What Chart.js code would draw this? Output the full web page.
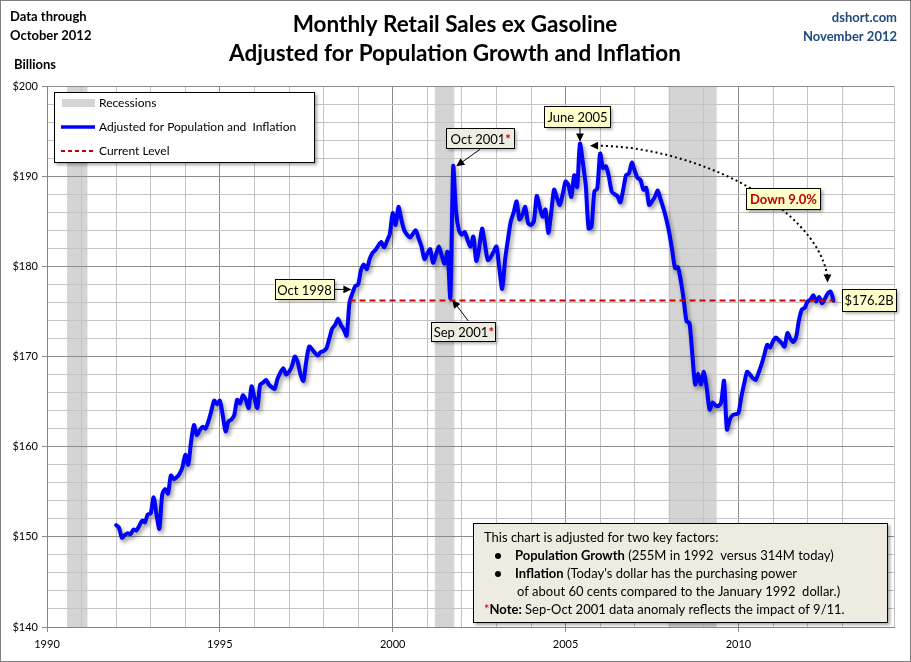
<!DOCTYPE html>
<html>
<head>
<meta charset="utf-8">
<script src="https://cdn.jsdelivr.net/npm/chart.js@4.4.1/dist/chart.umd.min.js"></script>
<style>
  html, body { margin: 0; padding: 0; background: #fff; }
  #wrap { width: 911px; height: 662px; }
</style>
</head>
<body>
<div id="wrap"><canvas id="salesChart" width="911" height="662"></canvas></div>
<script>
// Monthly series, Jan 1992 .. Oct 2012, billions (real, per-capita adjusted)
const startYear = 1992;
const sales = [
  // 1992
  151.3, 151.0, 149.9, 150.2, 150.4, 150.3, 150.8, 150.7, 151.2, 151.8, 151.6, 152.5,
  // 1993
  152.6, 154.4, 152.5, 150.9, 154.7, 155.3, 154.8, 156.8, 156.4, 156.6, 157.0, 157.7,
  // 1994
  159.1, 158.0, 160.5, 162.4, 161.3, 161.8, 162.2, 162.0, 162.8, 163.9, 165.1, 164.7,
  // 1995
  165.1, 163.5, 161.7, 162.8, 163.0, 163.5, 165.2, 164.8, 165.7, 165.2, 164.3, 166.7,
  // 1996
  165.4, 164.3, 166.9, 167.1, 167.4, 166.9, 166.6, 166.4, 167.5, 168.2, 168.7, 168.0,
  // 1997
  168.3, 168.9, 170.0, 169.4, 168.0, 167.3, 169.5, 171.1, 170.8, 170.4, 170.1, 170.5,
  // 1998
  170.6, 170.9, 172.0, 173.1, 173.5, 174.2, 173.5, 173.0, 172.3, 176.0, 177.0, 177.8,
  // 1999
  178.0, 179.6, 180.2, 179.7, 180.8, 181.5, 181.8, 182.3, 182.7, 182.1, 182.8, 183.6,
  // 2000
  185.9, 184.6, 186.6, 185.2, 184.0, 183.5, 183.2, 183.6, 184.0, 183.1, 182.2, 180.8,
  // 2001
  181.4, 181.9, 180.4, 181.3, 182.2, 181.2, 180.3, 181.6, 176.5, 191.1, 186.0, 184.0,
  // 2002
  183.5, 183.8, 182.9, 182.2, 183.3, 180.6, 182.0, 184.2, 182.5, 180.7, 181.0, 181.6,
  // 2003
  182.2, 179.8, 177.5, 180.7, 183.0, 185.0, 186.0, 187.2, 185.2, 185.7, 186.6, 184.8,
  // 2004
  184.6, 185.0, 187.8, 186.6, 185.5, 186.3, 183.7, 185.9, 188.5, 187.6, 186.8, 188.0,
  // 2005
  189.4, 189.0, 187.7, 190.1, 188.8, 193.6, 191.5, 189.0, 184.2, 184.4, 188.3, 188.6,
  // 2006
  192.5, 190.9, 191.1, 190.0, 188.3, 188.0, 187.8, 187.1, 188.5, 190.1, 190.3, 191.5,
  // 2007
  190.6, 189.8, 189.6, 188.5, 188.7, 186.8, 187.2, 187.7, 188.4, 187.4, 186.4, 185.2,
  // 2008
  183.7, 181.8, 179.8, 179.9, 178.4, 176.3, 173.9, 173.7, 170.2, 166.9, 168.1, 166.9,
  // 2009
  168.3, 166.5, 164.1, 164.9, 164.6, 164.5, 164.9, 167.3, 161.9, 163.0, 163.5, 163.6,
  // 2010
  163.7, 165.5, 167.0, 168.3, 168.0, 167.6, 167.4, 168.2, 169.1, 170.2, 171.3, 171.0,
  // 2011
  171.7, 172.1, 171.8, 171.5, 171.1, 172.6, 172.0, 171.6, 172.1, 174.0, 175.2, 175.4,
  // 2012
  176.1, 176.3, 176.8, 176.1, 176.6, 175.9, 176.4, 177.0, 177.2, 176.2
];

// NBER recessions (fractional years)
const recessionStart = [1990.58, 2001.22, 2007.98];
const recessionEnd   = [1991.17, 2001.78, 2009.37];

const yTickLabels = [140, 150, 160, 170, 180, 190, 200];
const xTickLabels = [1990, 1995, 2000, 2005, 2010];

const levelFromIndex = 81;   // Oct 1998, first month at the current level
const sep2001 = 116, oct2001 = 117;

const FONT = 'Lato, "Open Sans", sans-serif';

const monthX = i => startYear + i / 12;
const lastIndex = sales.length - 1;
const currentLevel = sales[lastIndex];
const peakIndex = sales.indexOf(Math.max(...sales));
const peakValue = sales[peakIndex];
const downPct = (1 - currentLevel / peakValue) * 100;

const seriesPoints = sales.map((v, i) => ({ x: monthX(i), y: v }));
const levelPoints = [
  { x: monthX(levelFromIndex), y: currentLevel },
  { x: monthX(lastIndex), y: currentLevel }
];

// ---- drawing helpers ----
function box(ctx, x, y, w, h, fill) {
  ctx.save();
  ctx.shadowColor = 'rgba(0,0,0,0.35)';
  ctx.shadowBlur = 3;
  ctx.shadowOffsetX = 2;
  ctx.shadowOffsetY = 2;
  ctx.fillStyle = fill;
  ctx.fillRect(x, y, w, h);
  ctx.restore();
  ctx.strokeStyle = '#000';
  ctx.lineWidth = 1;
  ctx.strokeRect(Math.round(x) + 0.5, Math.round(y) + 0.5, Math.round(w) - 1, Math.round(h) - 1);
}

function arrowHead(ctx, x1, y1, x2, y2, size) {
  const a = Math.atan2(y2 - y1, x2 - x1);
  ctx.beginPath();
  ctx.moveTo(x2, y2);
  ctx.lineTo(x2 - size * Math.cos(a - 0.45), y2 - size * Math.sin(a - 0.45));
  ctx.lineTo(x2 - size * Math.cos(a + 0.45), y2 - size * Math.sin(a + 0.45));
  ctx.closePath();
  ctx.fill();
}

function arrow(ctx, x1, y1, x2, y2) {
  ctx.save();
  ctx.strokeStyle = '#000';
  ctx.fillStyle = '#000';
  ctx.lineWidth = 1;
  const a = Math.atan2(y2 - y1, x2 - x1);
  ctx.beginPath();
  ctx.moveTo(x1, y1);
  ctx.lineTo(x2 - 6 * Math.cos(a), y2 - 6 * Math.sin(a));
  ctx.stroke();
  arrowHead(ctx, x1, y1, x2, y2, 9);
  ctx.restore();
}

function runs(ctx, x, y, parts, size) {
  ctx.textBaseline = 'middle';
  ctx.textAlign = 'left';
  parts.forEach(p => {
    ctx.font = (p.bold ? 'bold ' : '') + size + 'px ' + FONT;
    ctx.fillStyle = p.color || '#000';
    ctx.fillText(p.t, x, y);
    x += ctx.measureText(p.t).width;
  });
}

function callout(ctx, x, y, w, h, fill, parts, size) {
  box(ctx, x, y, w, h, fill);
  let tw = 0;
  parts.forEach(p => {
    ctx.font = (p.bold ? 'bold ' : '') + size + 'px ' + FONT;
    tw += ctx.measureText(p.t).width;
  });
  runs(ctx, x + (w - tw) / 2, y + h / 2 + 1, parts, size);
}

const backgroundPlugin = {
  id: 'recessionBands',
  beforeDraw(chart) {
    const { ctx, chartArea, scales } = chart;
    ctx.save();
    ctx.fillStyle = '#fff';
    ctx.fillRect(0, 0, chart.width, chart.height);
    ctx.fillStyle = '#d4d4d4';
    recessionStart.forEach((s, i) => {
      const x1 = scales.x.getPixelForValue(s);
      const x2 = scales.x.getPixelForValue(recessionEnd[i]);
      ctx.fillRect(x1, chartArea.top, x2 - x1, chartArea.bottom - chartArea.top);
    });
    ctx.restore();
  }
};

const shadowPlugin = {
  id: 'lineShadow',
  beforeDatasetDraw(chart, args) {
    if (args.index !== 1) return;
    const ctx = chart.ctx;
    ctx.save();
    ctx.shadowColor = 'rgba(0,0,0,0.4)';
    ctx.shadowBlur = 4;
    ctx.shadowOffsetX = 2;
    ctx.shadowOffsetY = 3;
  },
  afterDatasetDraw(chart, args) {
    if (args.index !== 1) return;
    chart.ctx.restore();
  }
};

const overlayPlugin = {
  id: 'overlay',
  afterDraw(chart) {
    const { ctx, scales } = chart;
    const px = v => scales.x.getPixelForValue(v);
    const py = v => scales.y.getPixelForValue(v);
    ctx.save();

    // titles
    ctx.fillStyle = '#000';
    ctx.textAlign = 'center';
    ctx.textBaseline = 'middle';
    ctx.font = 'bold 22.5px ' + FONT;
    ctx.fillText('Monthly Retail Sales ex Gasoline', 455, 25);
    ctx.fillText('Adjusted for Population Growth and Inflation', 455, 54);

    ctx.font = 'bold 13px ' + FONT;
    ctx.textAlign = 'left';
    ctx.fillText('Data through', 10, 17);
    ctx.fillText('October 2012', 10, 36);
    ctx.fillText('Billions', 14, 65);

    ctx.textAlign = 'right';
    ctx.fillStyle = '#1f497d';
    ctx.fillText('dshort.com', 897, 18);
    ctx.fillText('November 2012', 897, 37);

    // legend
    box(ctx, 54, 92, 261, 71, '#fff');
    ctx.fillStyle = '#d4d4d4';
    ctx.fillRect(62, 99, 33, 8);
    ctx.strokeStyle = '#0000ff';
    ctx.lineWidth = 3.5;
    ctx.beginPath(); ctx.moveTo(61, 127); ctx.lineTo(95, 127); ctx.stroke();
    ctx.strokeStyle = '#c00000';
    ctx.lineWidth = 2;
    ctx.setLineDash([4, 3]);
    ctx.beginPath(); ctx.moveTo(61, 151); ctx.lineTo(95, 151); ctx.stroke();
    ctx.setLineDash([]);
    runs(ctx, 99, 103, [{ t: 'Recessions' }], 12);
    runs(ctx, 99, 127, [{ t: 'Adjusted for Population and  Inflation' }], 12);
    runs(ctx, 99, 151, [{ t: 'Current Level' }], 12);

    // dotted curve from peak to current level
    const peak = { x: px(monthX(peakIndex)), y: py(peakValue) };
    const last = { x: px(monthX(lastIndex)), y: py(currentLevel) };
    const p0 = { x: peak.x + 10, y: peak.y + 2 };
    const p3 = { x: last.x - 6, y: last.y - 18 };
    ctx.strokeStyle = '#000';
    ctx.fillStyle = '#000';
    ctx.lineWidth = 2;
    ctx.setLineDash([2, 3]);
    ctx.beginPath();
    ctx.moveTo(p0.x + 6, p0.y);
    ctx.bezierCurveTo(p0.x + 102, p0.y, p3.x - 12, p3.y - 78, p3.x, p3.y - 6);
    ctx.stroke();
    ctx.setLineDash([]);
    arrowHead(ctx, p0.x + 20, p0.y, p0.x, p0.y, 9);
    arrowHead(ctx, p3.x, p3.y - 20, p3.x, p3.y, 9);

    // callouts
    const oct98 = { x: px(monthX(levelFromIndex)), y: py(sales[levelFromIndex]) };
    callout(ctx, oct98.x - 75, oct98.y - 23, 60, 21, '#ffffcc', [{ t: 'Oct 1998' }], 13);
    arrow(ctx, oct98.x - 15, oct98.y - 13, oct98.x + 2, oct98.y - 13);

    const sep = { x: px(monthX(sep2001)), y: py(sales[sep2001]) };
    arrow(ctx, sep.x + 18, sep.y + 23, sep.x + 2, sep.y + 2);
    callout(ctx, sep.x - 19, sep.y + 24, 65, 20, '#eeece1', [{ t: 'Sep 2001' }, { t: '*', bold: true, color: '#c00000' }], 13);

    const oct = { x: px(monthX(oct2001)), y: py(sales[oct2001]) };
    callout(ctx, oct.x - 7, oct.y - 38, 69, 21, '#eeece1', [{ t: 'Oct 2001' }, { t: '*', bold: true, color: '#c00000' }], 13);
    arrow(ctx, oct.x + 27, oct.y - 17, oct.x + 3, oct.y);

    callout(ctx, peak.x - 36, peak.y - 38, 67, 22, '#ffffcc', [{ t: 'June 2005' }], 13);
    arrow(ctx, peak.x, peak.y - 16, peak.x, peak.y - 2);

    callout(ctx, 746, 188, 75, 22, '#ffffcc', [{ t: 'Down ' + downPct.toFixed(1) + '%', bold: true, color: '#c00000' }], 13);
    callout(ctx, last.x + 8, last.y - 12, 55, 23, '#ffffcc', [{ t: '$' + currentLevel.toFixed(1) + 'B' }], 13);

    // note box
    box(ctx, 473, 523, 415, 100, '#eeece1');
    const nx = 484;
    runs(ctx, nx, 538, [{ t: 'This chart is adjusted for two key factors:' }], 13);
    ctx.fillStyle = '#000';
    ctx.beginPath(); ctx.arc(498, 556, 3, 0, Math.PI * 2); ctx.fill();
    ctx.beginPath(); ctx.arc(498, 574, 3, 0, Math.PI * 2); ctx.fill();
    runs(ctx, 515, 556, [{ t: 'Population Growth', bold: true }, { t: ' (255M in 1992  versus 314M today)' }], 13);
    runs(ctx, 515, 574, [{ t: 'Inflation', bold: true }, { t: " (Today's dollar has the purchasing power" }], 13);
    runs(ctx, 517, 592, [{ t: 'of about 60 cents compared to the January 1992  dollar.)' }], 13);
    runs(ctx, nx, 610, [{ t: '*', color: '#c00000' }, { t: 'Note:', bold: true }, { t: ' Sep-Oct 2001 data anomaly reflects the impact of 9/11.' }], 13);

    // outer border
    ctx.strokeStyle = '#7f7f7f';
    ctx.lineWidth = 1;
    ctx.strokeRect(0.5, 0.5, chart.width - 1, chart.height - 1);
    ctx.restore();
  }
};

const majorGrid = '#8c8c8c';
const minorGrid = '#c4c4c4';

const salesCtx = document.getElementById('salesChart').getContext('2d');
const salesChart = new Chart(salesCtx, {
  type: 'line',
  data: {
    datasets: [
      {
        label: 'Current Level',
        data: levelPoints,
        borderColor: '#d00000',
        borderWidth: 2,
        borderDash: [6, 4],
        pointRadius: 0,
        fill: false
      },
      {
        label: 'Adjusted for Population and  Inflation',
        data: seriesPoints,
        borderColor: '#0000ff',
        borderWidth: 4,
        pointRadius: 0,
        tension: 0.25,
        fill: false,
        borderJoinStyle: 'round',
        borderCapStyle: 'round'
      }
    ]
  },
  options: {
    responsive: false,
    animation: false,
    events: [],
    layout: { padding: { top: 86, right: 17, left: 0, bottom: 0 } },
    plugins: {
      legend: { display: false },
      tooltip: { enabled: false }
    },
    scales: {
      x: {
        type: 'linear',
        min: 1990,
        max: 2014.5,
        afterFit: s => { s.height = 35; },
        ticks: {
          stepSize: 1,
          autoSkip: false,
          maxRotation: 0,
          padding: 6,
          color: '#000',
          font: { family: FONT, size: 11 },
          callback: v => xTickLabels.includes(v) ? String(v) : ''
        },
        grid: {
          color: c => (c.tick && c.tick.value % 5 === 0) ? majorGrid : minorGrid,
          tickColor: c => (c.tick && xTickLabels.includes(c.tick.value)) ? majorGrid : 'rgba(0,0,0,0)',
          tickLength: 5
        },
        border: { color: '#868686' }
      },
      y: {
        min: 140,
        max: 200,
        afterFit: s => { s.width = 47; },
        ticks: {
          stepSize: 2,
          autoSkip: false,
          padding: 4,
          color: '#000',
          font: { family: FONT, size: 11 },
          callback: v => yTickLabels.includes(v) ? '$' + v : ''
        },
        grid: {
          color: c => (c.tick && c.tick.value % 10 === 0) ? majorGrid : minorGrid,
          tickColor: c => (c.tick && yTickLabels.includes(c.tick.value)) ? majorGrid : 'rgba(0,0,0,0)',
          tickLength: 5
        },
        border: { color: '#868686' }
      }
    }
  },
  plugins: [backgroundPlugin, shadowPlugin, overlayPlugin]
});
</script>
</body>
</html>
